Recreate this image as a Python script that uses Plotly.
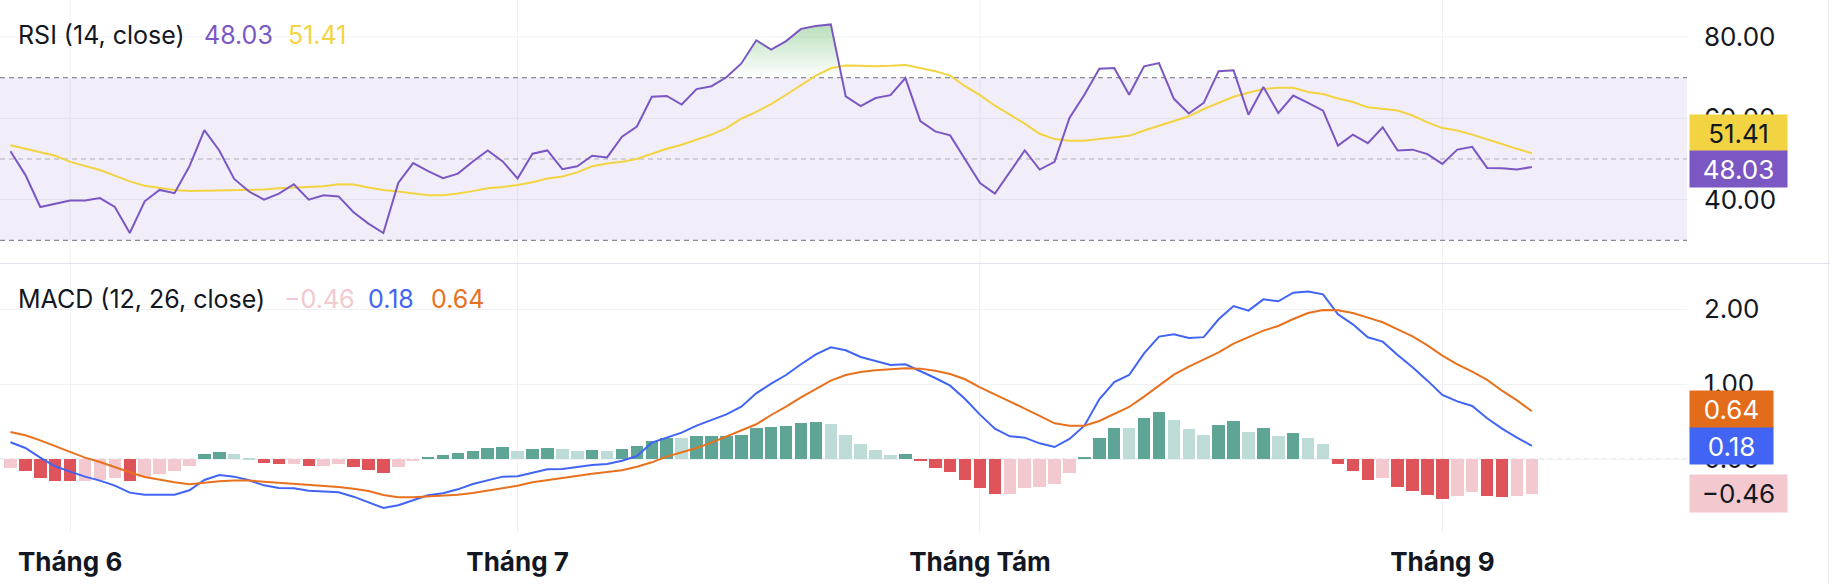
import numpy as np
import pandas as pd
import plotly.graph_objects as go

# ---------------- data ----------------
start_date = "2025-05-28"
n_days = 103

rsi = [51.9, 46.1, 38.2, 39.0, 39.8, 39.8, 40.4, 38.2, 31.8, 39.6,
       42.4, 41.6, 48.2, 57.1, 52.1, 45.1, 42.0, 40.0, 41.5, 43.8,
       40.0, 41.1, 40.8, 36.9, 34.1, 31.8, 44.1, 49.0, 47.0, 45.3,
       46.4, 49.4, 52.1, 49.4, 45.2, 51.3, 52.1, 47.5, 48.2, 50.8,
       50.4, 55.5, 58.0, 65.3, 65.5, 63.4, 67.2, 67.9, 70.1, 73.5,
       79.2, 76.9, 79.0, 82.0, 82.7, 83.1, 65.4, 63.0, 65.0, 65.7,
       69.9, 59.3, 56.8, 55.8, 49.8, 44.1, 41.5, 46.7, 52.1, 47.4,
       49.3, 60.1, 65.8, 72.2, 72.4, 65.8, 72.8, 73.6, 64.8, 61.2,
       63.8, 71.6, 71.8, 60.9, 67.7, 61.3, 65.6, 63.8, 61.9, 53.3,
       56.0, 53.9, 57.8, 52.1, 52.3, 51.2, 48.8, 52.3, 53.0, 47.8,
       47.7, 47.4, 48.03]

rsi_ma = [53.4, 52.5, 51.6, 50.8, 49.3, 48.3, 47.3, 45.9, 44.5, 43.4,
          42.9, 42.4, 42.1, 42.2, 42.3, 42.3, 42.4, 42.5, 42.8, 43.0,
          43.1, 43.3, 43.8, 43.7, 43.0, 42.4, 42.0, 41.5, 41.1, 41.1,
          41.5, 42.1, 42.8, 43.1, 43.6, 44.3, 45.2, 45.7, 46.7, 48.2,
          48.9, 49.3, 50.0, 51.3, 52.5, 53.5, 54.8, 56.0, 57.6, 59.9,
          61.6, 63.5, 65.8, 68.2, 70.5, 72.3, 73.0, 72.9, 72.8, 72.9,
          73.1, 72.4, 71.6, 70.5, 67.9, 65.7, 63.1, 60.9, 58.7, 56.2,
          54.9, 54.5, 54.5, 54.9, 55.3, 55.7, 57.0, 58.2, 59.4, 60.5,
          62.3, 63.8, 65.3, 66.3, 67.2, 67.5, 67.5, 66.5, 66.0, 64.9,
          64.0, 62.7, 62.3, 61.9, 60.7, 59.0, 57.6, 57.0, 56.0, 54.9,
          53.7, 52.5, 51.41]

macd = [0.227, 0.151, 0.022, -0.093, -0.164, -0.231, -0.284, -0.351, -0.444, -0.471,
        -0.471, -0.471, -0.413, -0.276, -0.209, -0.231, -0.280, -0.347, -0.382, -0.387,
        -0.418, -0.427, -0.440, -0.498, -0.573, -0.649, -0.612, -0.542, -0.480, -0.453,
        -0.400, -0.329, -0.276, -0.231, -0.227, -0.178, -0.133, -0.129, -0.098, -0.076,
        -0.062, -0.018, 0.044, 0.222, 0.289, 0.356, 0.449, 0.524, 0.600, 0.702,
        0.880, 1.009, 1.124, 1.267, 1.400, 1.493, 1.453, 1.364, 1.307, 1.258,
        1.267, 1.178, 1.084, 0.982, 0.804, 0.596, 0.409, 0.307, 0.289, 0.213,
        0.164, 0.271, 0.449, 0.800, 1.031, 1.124, 1.413, 1.636, 1.667, 1.618,
        1.629, 1.867, 2.044, 1.982, 2.133, 2.107, 2.222, 2.236, 2.200, 1.933,
        1.800, 1.627, 1.569, 1.391, 1.227, 1.049, 0.858, 0.773, 0.711, 0.547,
        0.410, 0.290, 0.18]

signal = [0.364, 0.320, 0.253, 0.178, 0.098, 0.022, -0.036, -0.107, -0.173, -0.236,
          -0.276, -0.307, -0.333, -0.311, -0.293, -0.284, -0.284, -0.298, -0.311, -0.324,
          -0.333, -0.351, -0.369, -0.391, -0.422, -0.476, -0.505, -0.507, -0.498, -0.484,
          -0.471, -0.449, -0.418, -0.382, -0.351, -0.307, -0.276, -0.253, -0.222, -0.191,
          -0.170, -0.145, -0.098, -0.040, 0.036, 0.093, 0.151, 0.222, 0.302, 0.378,
          0.467, 0.591, 0.702, 0.827, 0.942, 1.049, 1.124, 1.164, 1.187, 1.200,
          1.213, 1.209, 1.182, 1.138, 1.067, 0.960, 0.867, 0.778, 0.676, 0.578,
          0.480, 0.449, 0.449, 0.511, 0.604, 0.698, 0.836, 0.987, 1.129, 1.236,
          1.331, 1.427, 1.542, 1.627, 1.716, 1.778, 1.871, 1.951, 1.991, 1.987,
          1.951, 1.889, 1.827, 1.733, 1.640, 1.520, 1.382, 1.267, 1.169, 1.058,
          0.915, 0.785, 0.64]

hist = [-0.120, -0.155, -0.253, -0.289, -0.292, -0.289, -0.276, -0.253, -0.289, -0.240,
        -0.196, -0.156, -0.084, 0.067, 0.102, 0.067, 0.010, -0.044, -0.067, -0.062,
        -0.089, -0.085, -0.067, -0.107, -0.142, -0.178, -0.100, -0.027, 0.036, 0.058,
        0.080, 0.116, 0.156, 0.158, 0.116, 0.133, 0.156, 0.133, 0.110, 0.122,
        0.116, 0.135, 0.178, 0.249, 0.289, 0.285, 0.311, 0.313, 0.316, 0.329,
        0.422, 0.425, 0.440, 0.480, 0.498, 0.476, 0.329, 0.200, 0.120, 0.062,
        0.065, -0.027, -0.120, -0.173, -0.276, -0.387, -0.462, -0.458, -0.387, -0.364,
        -0.329, -0.178, 0.027, 0.289, 0.422, 0.418, 0.547, 0.627, 0.529, 0.400,
        0.324, 0.458, 0.511, 0.360, 0.422, 0.311, 0.347, 0.289, 0.200, -0.062,
        -0.156, -0.276, -0.244, -0.364, -0.422, -0.480, -0.533, -0.493, -0.440, -0.493,
        -0.497, -0.490, -0.46]

month_ticks = ["2025-06-01", "2025-07-01", "2025-08-01", "2025-09-01"]
month_labels = ["Tháng 6", "Tháng 7", "Tháng Tám", "Tháng 9"]
rsi_ticks = [40, 60, 80]
rsi_tick_labels = ["40.00", "60.00", "80.00"]
rsi_levels = [70, 50, 30]
macd_ticks = [0, 1, 2]
macd_tick_labels = ["0.00", "1.00", "2.00"]

# ---------------- styling ----------------
FONT = "Inter, 'Noto Sans', sans-serif"
TXT = "#131722"
GRID = "#EFF1F5"
C_RSI = "#7B57C3"
C_MA = "#F2D443"
C_MACD = "#4164F4"
C_SIG = "#E8711E"
C_UP = "#5FA596"
C_UP_L = "#BDDCD7"
C_DN = "#DF535A"
C_DN_L = "#F3C8CE"

W, H = 1830, 584
PL, PR, PB = 0, 143, 52
PW = W - PL - PR
PH = H - PB

start = pd.Timestamp(start_date)
dates = start + pd.to_timedelta(np.arange(n_days), unit="D")
x_range = [(start + pd.Timedelta(hours=-16.8)).strftime("%Y-%m-%d %H:%M"),
           (start + pd.Timedelta(hours=112.4 * 24)).strftime("%Y-%m-%d %H:%M")]

rsi_range = [24.3, 89.1]
macd_range = [-0.969, 2.604]
rsi_dom = [1 - 263.5 / PH, 1.0]
macd_dom = [0.0, 1 - 264 / PH]


def px_x(p):
    return (p - PL) / PW


def px_y(p):
    return (PH - p) / PH


fig = go.Figure()

# overbought gradient fill (RSI > 70)
r = np.array(rsi, dtype=float)
fx, fy = [], []
for i in range(n_days):
    if i > 0:
        a, b = r[i - 1] - 70, r[i] - 70
        if a * b < 0:
            t = a / (a - b)
            fx.append(i - 1 + t)
            fy.append(70.0)
    fx.append(float(i))
    fy.append(max(r[i], 70.0))
fdates = [(start + pd.Timedelta(minutes=round(v * 1440))).strftime("%Y-%m-%d %H:%M") for v in fx]

fig.add_trace(go.Scatter(x=fdates, y=[70.0] * len(fx), mode="lines",
                         line=dict(width=0, color="rgba(0,0,0,0)"),
                         hoverinfo="skip", xaxis="x", yaxis="y"))
fig.add_trace(go.Scatter(x=fdates, y=fy, mode="lines", fill="tonexty",
                         line=dict(width=0, color="rgba(0,0,0,0)"),
                         fillgradient=dict(type="vertical",
                                           colorscale=[[0, "rgba(76,175,80,0.0)"],
                                                       [1, "rgba(76,175,80,0.42)"]],
                                           start=70, stop=84),
                         hoverinfo="skip", xaxis="x", yaxis="y"))

fig.add_trace(go.Scatter(x=dates, y=rsi_ma, mode="lines",
                         line=dict(color=C_MA, width=2), xaxis="x", yaxis="y"))
fig.add_trace(go.Scatter(x=dates, y=rsi, mode="lines",
                         line=dict(color=C_RSI, width=2), xaxis="x", yaxis="y"))

# MACD histogram colours from the values
h = np.array(hist, dtype=float)
bar_colors = []
for i in range(n_days):
    prev = h[i - 1] if i > 0 else h[i]
    if h[i] >= 0:
        bar_colors.append(C_UP if h[i] > prev else C_UP_L)
    else:
        bar_colors.append(C_DN if h[i] < prev else C_DN_L)

fig.add_trace(go.Bar(x=dates, y=hist, marker=dict(color=bar_colors, line=dict(width=0)),
                     width=0.84 * 86400000, xaxis="x2", yaxis="y2"))
fig.add_trace(go.Scatter(x=dates, y=macd, mode="lines",
                         line=dict(color=C_MACD, width=2), xaxis="x2", yaxis="y2"))
fig.add_trace(go.Scatter(x=dates, y=signal, mode="lines",
                         line=dict(color=C_SIG, width=2), xaxis="x2", yaxis="y2"))

# ---------------- shapes ----------------
shapes = []
# RSI pane grid (drawn as shapes so the band tints it)
for v in rsi_ticks:
    shapes.append(dict(type="line", xref="paper", yref="y", x0=0, x1=1, y0=v, y1=v,
                       line=dict(color=GRID, width=1), layer="below"))
for m in month_ticks:
    shapes.append(dict(type="line", xref="x", yref="paper", x0=m, x1=m,
                       y0=rsi_dom[0], y1=rsi_dom[1],
                       line=dict(color=GRID, width=1), layer="below"))
shapes.append(dict(type="rect", xref="paper", yref="y", x0=0, x1=1, y0=30, y1=70,
                   fillcolor="rgba(126,87,194,0.10)", line=dict(width=0), layer="below"))
for lvl, col in zip(rsi_levels, ["#8A8D96", "rgba(120,123,134,0.55)", "#8A8D96"]):
    shapes.append(dict(type="line", xref="paper", yref="y", x0=0, x1=1, y0=lvl, y1=lvl,
                       line=dict(color=col, width=1.2, dash="5px,4px"), layer="below"))
shapes.append(dict(type="line", xref="paper", yref="y2", x0=0, x1=1, y0=0, y1=0,
                   line=dict(color="rgba(120,123,134,0.55)", width=1.2, dash="5px,4px"),
                   layer="below"))
# pane separator and right border
shapes.append(dict(type="line", xref="paper", yref="paper", x0=0, x1=px_x(W),
                   y0=px_y(263.5), y1=px_y(263.5), line=dict(color="#E0E3EB", width=1)))
shapes.append(dict(type="line", xref="paper", yref="paper", x0=px_x(1828.5), x1=px_x(1828.5),
                   y0=px_y(H), y1=px_y(0), line=dict(color="#E6E8EE", width=1)))

# ---------------- annotations ----------------
ann = []


def add_text(text, x_px, y_px, color, size=25):
    ann.append(dict(text=text, xref="paper", yref="paper", x=px_x(x_px), y=px_y(y_px),
                    xanchor="left", yanchor="middle", showarrow=False, borderpad=0,
                    font=dict(family=FONT, size=size, color=color)))


add_text("RSI (14, close)", 17, 35, TXT)
add_text(f"{rsi[-1]:.2f}", 203, 35, C_RSI)
add_text(f"{rsi_ma[-1]:.2f}", 287, 35, C_MA)
add_text("MACD (12, 26, close)", 17, 299, TXT)
add_text(f"\u2212{abs(hist[-1]):.2f}", 283, 299, C_DN_L)
add_text(f"{macd[-1]:.2f}", 367, 299, C_MACD)
add_text(f"{signal[-1]:.2f}", 430, 299, C_SIG)


def add_box(text, value, yref, bg, fg, width, yshift=0, height=36):
    ann.append(dict(text=text, xref="paper", yref=yref, x=1, y=value, xshift=2,
                    xanchor="left", yanchor="middle", yshift=yshift, showarrow=False,
                    bgcolor=bg, width=width, height=height, align="center", borderpad=0,
                    font=dict(family=FONT, size=26, color=fg)))


add_box(f"{rsi_ma[-1]:.2f}", rsi_ma[-1], "y", C_MA, TXT, 97, yshift=20)
add_box(f"{rsi[-1]:.2f}", rsi[-1], "y", C_RSI, "white", 97, yshift=-2)
add_box(f"{signal[-1]:.2f}", signal[-1], "y2", "#E36C1B", "white", 83, yshift=2, height=37)
add_box(f"{macd[-1]:.2f}", macd[-1], "y2", C_MACD, "white", 83, height=36)
add_box(f"\u2212{abs(hist[-1]):.2f}", hist[-1], "y2", C_DN_L, TXT, 97, height=37)

# ---------------- layout ----------------
axis_font = dict(family=FONT, size=26, color=TXT)
fig.update_layout(
    width=W, height=H,
    margin=dict(l=PL, r=PR, t=0, b=PB, pad=0, autoexpand=False),
    paper_bgcolor="white", plot_bgcolor="white",
    showlegend=False, bargap=0,
    shapes=shapes, annotations=ann,
    xaxis=dict(domain=[0, 1], anchor="y", matches="x2", range=x_range, type="date",
               tickvals=month_ticks, showticklabels=False, showgrid=False,
               zeroline=False, showline=False, ticks="", automargin=False),
    yaxis=dict(domain=rsi_dom, anchor="x", side="right", range=rsi_range,
               tickvals=rsi_ticks, ticktext=rsi_tick_labels, showgrid=False,
               zeroline=False, showline=False, ticks="", tickfont=axis_font,
               ticklabelstandoff=16, automargin=False),
    xaxis2=dict(domain=[0, 1], anchor="y2", range=x_range, type="date",
                tickvals=month_ticks, ticktext=[f"<b>{m}</b>" for m in month_labels],
                showgrid=True, gridcolor=GRID, zeroline=False, showline=False, ticks="",
                tickfont=axis_font, ticklabelstandoff=12, automargin=False),
    yaxis2=dict(domain=macd_dom, anchor="x2", side="right", range=macd_range,
                tickvals=macd_ticks, ticktext=macd_tick_labels, showgrid=True, gridcolor=GRID,
                zeroline=False, showline=False, ticks="", tickfont=axis_font,
                ticklabelstandoff=16, automargin=False),
)

fig.write_html("out.html", config={"displayModeBar": False},
               post_script="document.body.style.margin='0';document.body.style.overflow='hidden';")
